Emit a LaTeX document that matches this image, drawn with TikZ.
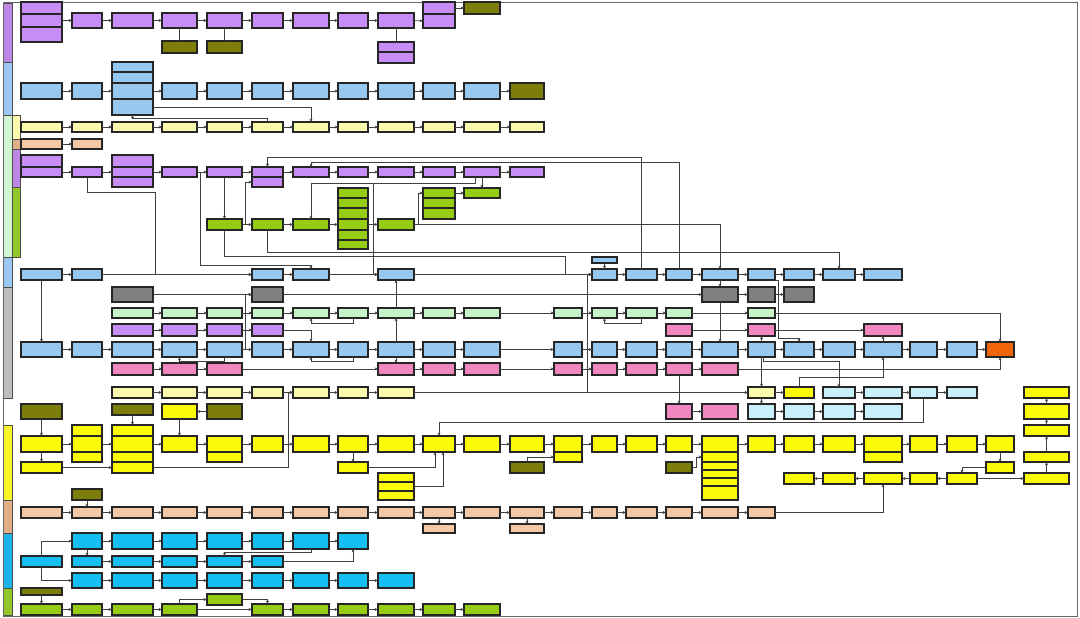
\documentclass[tikz,border=0pt]{standalone}
\usetikzlibrary{arrows.meta}

\definecolor{pur}{RGB}{200,140,245}
\definecolor{blu}{RGB}{150,200,240}
\definecolor{lyel}{RGB}{250,250,175}
\definecolor{yel}{RGB}{250,250,10}
\definecolor{org}{RGB}{245,200,165}
\definecolor{olv}{RGB}{125,125,10}
\definecolor{grn}{RGB}{150,205,20}
\definecolor{lgr}{RGB}{200,242,200}
\definecolor{gry}{RGB}{128,128,128}
\definecolor{pnk}{RGB}{240,135,190}
\definecolor{cyn}{RGB}{20,190,240}
\definecolor{lcy}{RGB}{200,240,250}
\definecolor{hot}{RGB}{240,100,10}
\definecolor{lanepur}{RGB}{190,135,230}
\definecolor{laneblu}{RGB}{155,200,240}
\definecolor{lanelgr}{RGB}{210,245,210}
\definecolor{lanegry}{RGB}{190,190,190}
\definecolor{laneyel}{RGB}{250,245,40}
\definecolor{laneorg}{RGB}{225,175,135}
\definecolor{lanecyn}{RGB}{30,180,235}
\definecolor{lanegrn}{RGB}{145,200,40}

% left and right edges of the columns
\def\colL{{21,72,112,162,207,252,293,338,378,423,464,510,554,592,626,666,702,748,784,823,864,910,947,986,1024}}
\def\colR{{62,102,153,197,242,283,329,368,414,455,500,544,582,617,657,692,738,775,814,855,902,937,977,1014,1069}}

% one row of boxes: name prefix, style, top, bottom, columns
\newcommand\boxrow[5]{%
  \foreach \ci in {#5}{%
    \pgfmathsetmacro\xl{\colL[\ci]}%
    \pgfmathsetmacro\xr{\colR[\ci]}%
    \node[#2, minimum width=\xr-\xl, minimum height=#4-#3] (#1\ci) at ({(\xl+\xr)/2},{(#3+#4)/2}) {};%
  }%
}
% arrows between boxes of one row
\newcommand\links[2]{\foreach \ua/\ub in {#2} \draw[arr] (#1\ua) -- (#1\ub);}

\tikzset{
  cellbox/.style={draw=black!85, line width=1.1pt, inner sep=0pt, outer sep=0pt},
  purbox/.style={cellbox, fill=pur},
  blubox/.style={cellbox, fill=blu},
  lyelbox/.style={cellbox, fill=lyel},
  yelbox/.style={cellbox, fill=yel},
  orgbox/.style={cellbox, fill=org},
  olvbox/.style={cellbox, fill=olv},
  grnbox/.style={cellbox, fill=grn},
  lgrbox/.style={cellbox, fill=lgr},
  grybox/.style={cellbox, fill=gry},
  pnkbox/.style={cellbox, fill=pnk},
  cynbox/.style={cellbox, fill=cyn},
  lcybox/.style={cellbox, fill=lcy},
  hotbox/.style={cellbox, fill=hot},
  lane/.style={draw=black!70, line width=0.8pt},
  lnk/.style={draw=black!75, line width=0.8pt},
  arr/.style={lnk, -{Stealth[length=3.4pt,width=3pt]}}
}

\begin{document}
\begin{tikzpicture}[x=1pt, y=-1pt]
    \useasboundingbox (0,0) rectangle (1080,618);
    \fill[white] (0,0) rectangle (1080,618);

    % Lanes
    \draw[lane, fill=lanepur] (3,3) rectangle (12,62);
    \draw[lane, fill=laneblu] (3,62) rectangle (12,115);
    \draw[lane, fill=lanelgr] (3,115) rectangle (12,257);
    \draw[lane, fill=lyel] (12,115) rectangle (20,139);
    \draw[lane, fill=laneorg] (12,139) rectangle (20,149);
    \draw[lane, fill=lanepur] (12,149) rectangle (20,187);
    \draw[lane, fill=lanegrn] (12,187) rectangle (20,257);
    \draw[lane, fill=laneblu] (3,257) rectangle (12,287);
    \draw[lane, fill=lanegry] (3,287) rectangle (12,398);
    \draw[lane, fill=laneyel] (3,425) rectangle (12,500);
    \draw[lane, fill=laneorg] (3,500) rectangle (12,533);
    \draw[lane, fill=lanecyn] (3,533) rectangle (12,588);
    \draw[lane, fill=lanegrn] (3,588) rectangle (12,615);
    \draw[black!60, line width=1pt] (3,3) rectangle (1077,616);

    % Purple lane
    \boxrow{ps}{purbox}{2}{14}{0}
    \boxrow{pm}{purbox}{14}{27}{0}
    \boxrow{pz}{purbox}{27}{42}{0}
    \boxrow{pa}{purbox}{13}{28}{1,...,8}
    \boxrow{ph}{purbox}{2}{14}{9}
    \boxrow{pj}{purbox}{14}{28}{9}
    \boxrow{po}{olvbox}{2}{14}{10}
    \boxrow{pl}{olvbox}{41}{53}{3,4}
    \boxrow{pp}{purbox}{42}{52}{8}
    \boxrow{pq}{purbox}{52}{63}{8}
    \draw[arr] (pm0) -- (pa1);
    \links{pa}{1/2,2/3,3/4,4/5,5/6,6/7,7/8}
    \draw[arr] (pa8) -- (pj9);
    \draw[arr] (ph9) -- (po10);
    \draw[lnk] (pa3) -- (pl3);
    \draw[lnk] (pa4) -- (pl4);
    \draw[lnk] (pa8) -- (pp8);

    % Blue lane
    \boxrow{ba}{blubox}{83}{99}{0,...,10}
    \boxrow{bo}{olvbox}{83}{99}{11}
    \boxrow{bs}{blubox}{62}{72}{2}
    \boxrow{bt}{blubox}{72}{83}{2}
    \boxrow{bw}{blubox}{99}{115}{2}
    \links{ba}{0/1,1/2,2/3,3/4,4/5,5/6,6/7,7/8,8/9,9/10}
    \draw[arr] (ba10) -- (bo11);

    % Light green lane
    \boxrow{la}{lyelbox}{122}{132}{0,...,11}
    \links{la}{0/1,1/2,2/3,3/4,4/5,5/6,6/7,7/8,8/9,9/10,10/11}
    \draw[arr] (bw2.east) -| (la6.north);
    \draw[arr] (la5.north) -- ++(0,-4) -| (bw2.south);
    \boxrow{oa}{orgbox}{139}{149}{0,1}
    \draw[arr] (oa0) -- (oa1);
    \boxrow{qa}{purbox}{155}{167}{0,2}
    \boxrow{qr}{purbox}{167}{177}{0,...,11}
    \boxrow{qu}{purbox}{177}{187}{2,5}
    \links{qr}{0/1,1/2,2/3,3/4,4/5,5/6,6/7,7/8,8/9,9/10,10/11}
    \boxrow{gb}{grnbox}{219}{230}{4,...,8}
    \boxrow{gh}{grnbox}{188}{198}{7,9,10}
    \boxrow{gi}{grnbox}{198}{208}{7,9}
    \boxrow{gj}{grnbox}{208}{219}{7,9}
    \boxrow{gk}{grnbox}{230}{240}{7}
    \boxrow{gl}{grnbox}{240}{249}{7}
    \links{gb}{4/5,5/6,6/7,7/8}
    \draw[arr] (gh9) -- (gh10);
    \draw[arr] (gb8.east) -- ++(4,0) |- (gh9.west);
    \draw[arr] (qr10) -- (gh10);
    \draw[arr] (qr4) -- (gb4);
    \draw[arr] (gb4.east) -- ++(3,0) |- (qu5.west);

    % Blue lane (second)
    \boxrow{bb}{blubox}{269}{280}{0,1,5,6,8,13,14,...,20}
    \boxrow{bk}{blubox}{257}{263}{13}
    \links{bb}{0/1,1/5,5/6,6/8,8/13,13/14,14/15,15/16,16/17,17/18,18/19,19/20}
    \draw[arr] (bk13) -- (bb13);
    \draw[arr] (qr1.south) |- (155,192) |- (bb5.west);
    \draw[arr] (qr3.east) -| (200,265) -| (bb6.north);
    \draw[arr] ([xshift=-7pt]qr10.south) -- ++(0,6) -| (gb6.north);
    \coordinate (jq) at (373,183);
    \draw[arr] (jq) |- (bb8.west);
    \draw[arr] (gb5.south) -- ++(0,22) -| (bb19.north);
    \draw[arr] (gb4.south) |- (565,256) |- (bb13.west);
    \draw[arr] (bb14.north) -- ++(0,-112) -| (qr5.north);
    \draw[arr] (bb15.north) -- ++(0,-107) -| (qr6.north);
    \draw[arr] (gb8.east) -| (bb16.north);

    % Gray lane
    \boxrow{gr}{grybox}{287}{302}{2,5,16,17,18}
    \boxrow{lg}{lgrbox}{308}{318}{2,...,10,12,13,14,15,17}
    \boxrow{pc}{purbox}{324}{336}{2,3,4,5}
    \boxrow{pc}{pnkbox}{324}{336}{15,17,20}
    \boxrow{bd}{blubox}{342}{357}{0,...,10,12,13,...,22}
    \boxrow{bd}{hotbox}{342}{357}{23}
    \boxrow{pk}{pnkbox}{363}{375}{2,3,4,8,9,10,12,13,...,16}
    \boxrow{ly}{lyelbox}{387}{398}{2,...,8,17}
    \boxrow{ly}{yelbox}{387}{398}{18,24}
    \boxrow{ly}{lcybox}{387}{398}{19,20,21,22}
    \boxrow{gw}{lcybox}{404}{419}{17,...,20}
    \boxrow{gw}{pnkbox}{404}{419}{15,16}
    \boxrow{gw}{yelbox}{404}{419}{24}
    \links{gr}{2/5,5/16,16/17,17/18}
    \links{lg}{2/3,3/4,4/5,5/6,6/7,7/8,8/9,9/10,10/12,12/13,13/14,14/15,15/17}
    \links{pc}{2/3,3/4,4/5,15/17,17/20}
    \links{bd}{0/1,1/2,2/3,3/4,4/5,5/6,6/7,7/8,8/9,9/10,10/12,12/13,13/14,14/15,15/16,16/17,17/18,18/19,19/20,20/21,21/22,22/23}
    \links{pk}{2/3,3/4,4/8,8/9,9/10,10/12,12/13,13/14,14/15,15/16}
    \links{ly}{2/3,3/4,4/5,5/6,6/7,7/8,8/17,17/18,19/20,20/21,21/22}
    \links{gw}{15/16,17/18,18/19,19/20}
    \draw[arr] (bb0) -- (bd0);
    \draw[arr] (bd4.east) -- ++(3,0) |- (gr5.west);
    \draw[arr] (pc5.east) -| (bd6.north);
    \draw[arr] (lg7.south) -- ++(0,5) -| (lg6.south);
    \draw[arr] (lg14.south) -- ++(0,5) -| (lg13.south);
    \draw[arr] (bd4.south) -- ++(0,4) -| (bd3.south);
    \draw[arr] (bd7.south) -- ++(0,4) -| (bd6.south);
    \draw[arr] (lg8) -- (bb8);
    \draw[arr] (bd8) -- (lg8);
    \draw[arr] (bd8) -- (pk8);
    \draw[arr] (bb16) -- (gr16);
    \draw[arr] (gr16) -- (bd16);
    \draw[arr] (bb17.south east) -| ++(3,58) -| (bd18.north);
    \draw[arr] (lg17.east) -| (bd23.north);
    \draw[arr] (bd17) -- (pc17);
    \draw[arr] (bd20) -- (pc20);
    \draw[arr] (bd17) -- (ly17);
    \draw[arr] ([xshift=2pt]bd17.south) -- ++(0,4) -| (ly19.north);
    \draw[arr] (pk16.east) -| (bd23.south);
    \draw[arr] (ly18.north) -- ++(0,-10) -| (bd20.south);
    \draw[arr] (ly8.east) -| ([xshift=-5pt]bb13.west) -- (bb13.west);
    \draw[arr] (ly17) -- (gw17);
    \draw[arr] (pk15) -- (gw15);

    % Yellow lane
    \boxrow{yo}{olvbox}{404}{419}{0,4}
    \boxrow{yo}{olvbox}{404}{415}{2}
    \boxrow{yo}{yelbox}{404}{419}{3}
    \boxrow{ym}{yelbox}{436}{452}{0,...,23}
    \boxrow{ya}{yelbox}{425}{436}{1,2,24}
    \boxrow{yb}{yelbox}{452}{462}{1,2,4,12,16,20,24}
    \boxrow{yc}{yelbox}{462}{473}{0,2,7,23}
    \boxrow{yc}{olvbox}{462}{473}{11,15}
    \boxrow{yd}{yelbox}{462}{470}{16}
    \boxrow{ye}{yelbox}{470}{478}{16}
    \boxrow{yf}{yelbox}{478}{486}{16}
    \boxrow{yg}{yelbox}{486}{500}{16}
    \boxrow{yh}{yelbox}{473}{482}{8}
    \boxrow{yi}{yelbox}{482}{491}{8}
    \boxrow{yj}{yelbox}{491}{500}{8}
    \boxrow{yt}{yelbox}{473}{484}{18,...,22,24}
    \links{ym}{0/1,1/2,2/3,3/4,4/5,5/6,6/7,7/8,8/9,9/10,10/11,11/12,12/13,13/14,14/15,15/16,16/17,17/18,18/19,19/20,20/21,21/22,22/23}
    \links{yt}{22/21,21/20,20/19,19/18,22/24}
    \draw[arr] (yo0) -- (ym0);
    \draw[arr] (ym0) -- (yc0);
    \draw[arr] (yc0) -- (yc2);
    \draw[arr] (yo2) -- (ya2);
    \draw[arr] (yo4) -- (yo3);
    \draw[arr] (yo3) -- (ym3);
    \draw[arr] (yc2.east) -| ([xshift=-5pt]ly6.west) -- (ly6.west);
    \draw[arr] (ym7) -- (yc7);
    \draw[arr] (yc7.east) -| ([xshift=-4pt]ym9.south);
    \draw[arr] (yi8.east) -| ([xshift=4pt]ym9.south);
    \draw[arr] (ly21.south) -- ++(0,24) -| (ym9.north);
    \draw[arr] (yc11.north) |- (yb12.west);
    \draw[arr] (yc15.east) -- ++(4,0) |- (yb16.west);
    \draw[arr] (ym23) -- (yc23);
    \draw[arr] (yc23.west) -| (yt22.north);
    \draw[arr] (yt24) -- (yb24);
    \draw[arr] (yb24) -- (ya24);
    \draw[arr] (ya24) -- (gw24);
    \draw[arr] (gw24) -- (ly24);

    % Brown lane
    \boxrow{br}{orgbox}{507}{518}{0,...,17}
    \boxrow{bz}{olvbox}{489}{500}{1}
    \boxrow{bl}{orgbox}{524}{533}{9,11}
    \links{br}{0/1,1/2,2/3,3/4,4/5,5/6,6/7,7/8,8/9,9/10,10/11,11/12,12/13,13/14,14/15,15/16,16/17}
    \draw[arr] (bz1) -- (br1);
    \draw[arr] (br9) -- (bl9);
    \draw[arr] (br11) -- (bl11);
    \draw[arr] (br17.east) -| (yt20.south);

    % Cyan lane
    \boxrow{ca}{cynbox}{533}{549}{1,...,7}
    \boxrow{cb}{cynbox}{556}{567}{0,...,5}
    \boxrow{cc}{cynbox}{573}{588}{1,...,8}
    \links{ca}{1/2,2/3,3/4,4/5,5/6,6/7}
    \links{cb}{1/2,2/3,3/4,4/5}
    \links{cc}{1/2,2/3,3/4,4/5,5/6,6/7,7/8}
    \draw[arr] (cb0.north) |- (ca1.west);
    \draw[arr] (cb0.south) |- (cc1.west);
    \draw[arr] (ca1) -- (cb1);
    \draw[arr] (ca6.south) -- ++(0,3) -| (cb4.north);
    \draw[arr] (cb5.east) -| (ca7.south);

    % Green lane
    \boxrow{fo}{olvbox}{588}{595}{0}
    \boxrow{fn}{grnbox}{604}{615}{0,1,2,3,5,6,...,10}
    \boxrow{fu}{grnbox}{594}{605}{4}
    \links{fn}{0/1,1/2,2/3,3/5,5/6,6/7,7/8,8/9,9/10}
    \draw[arr] (fo0) -- (fn0);
    \draw[arr] (fn3.north) |- (fu4.west);
    \draw[arr] (fu4.east) -| (fn5.north);
\end{tikzpicture}
\end{document}
